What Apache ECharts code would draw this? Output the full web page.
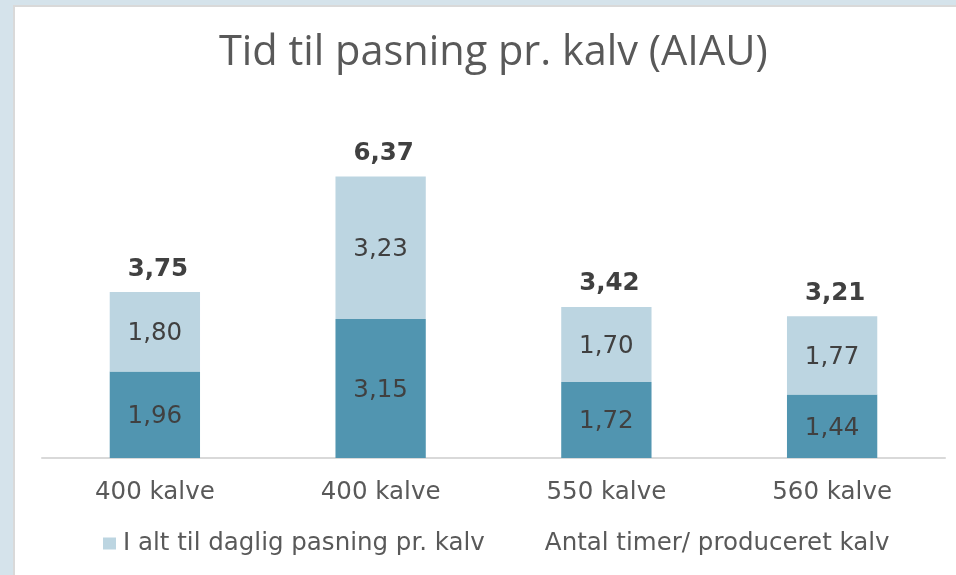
<!DOCTYPE html>
<html>
<head>
<meta charset="utf-8">
<script src="https://cdn.jsdelivr.net/npm/echarts@6/dist/echarts.min.js"></script>
<style>
  html, body { margin: 0; padding: 0; background: #d5e3eb; }
  #panel { position: absolute; left: 13px; top: 5px; width: 943px; height: 570px; background: #ffffff; border-left: 2px solid #d9d9d9; border-top: 2px solid #d9d9d9; box-sizing: border-box; }
  #chart { position: absolute; left: 0; top: 0; width: 956px; height: 575px; }
</style>
</head>
<body>
<div id="panel"></div>
<div id="chart"></div>
<script>
const categories = ['400 kalve', '400 kalve', '550 kalve', '560 kalve'];
const dailyCare = [1.96, 3.15, 1.72, 1.44];
const totalDaily = [1.80, 3.23, 1.70, 1.77];
const hoursPerCalf = [3.75, 6.37, 3.42, 3.21];
const titleText = 'Tid til pasning pr. kalv (AIAU)';
const legendLight = 'I alt til daglig pasning pr. kalv';
const legendTotal = 'Antal timer/ produceret kalv';

const fmt = v => Number(v).toFixed(2).replace('.', ',');
const FONT = 'DejaVu Sans';
const FS = 24.5;

const chart = echarts.init(document.getElementById('chart'), null, { renderer: 'canvas' });
chart.setOption({
  backgroundColor: 'transparent',
  animation: false,
  title: {
    text: titleText,
    left: 214,
    top: 27,
    textStyle: { fontFamily: 'Open Sans', fontSize: 41.5, fontWeight: 'normal', color: '#595959' }
  },
  legend: {
    data: [
      { name: legendLight, icon: 'rect' },
      { name: legendTotal, icon: 'none' }
    ],
    left: 103,
    top: 531,
    padding: 0,
    itemWidth: 13,
    itemHeight: 12,
    itemGap: 40,
    textStyle: { fontFamily: FONT, fontSize: FS, color: '#595959', padding: [2, 0, 0, 2] }
  },
  grid: { left: 42, right: 11, top: 105, bottom: 117 },
  xAxis: {
    type: 'category',
    data: categories,
    axisLine: { lineStyle: { color: '#d9d9d9', width: 2 } },
    axisTick: { show: false },
    axisLabel: { fontFamily: FONT, fontSize: FS, color: '#595959', margin: 22 }
  },
  yAxis: {
    type: 'value', min: 0, max: 8, show: false, splitLine: { show: false }
  },
  series: [
    {
      name: 'Daglig pasning',
      type: 'bar',
      stack: 'a',
      data: dailyCare,
      barWidth: '40%',
      itemStyle: { color: '#5195b0' },
      label: { show: true, position: 'inside', offset: [0, 2], formatter: p => fmt(p.value), fontFamily: FONT, fontSize: FS, color: '#404040' }
    },
    {
      name: legendLight,
      type: 'bar',
      stack: 'a',
      data: totalDaily,
      barWidth: '40%',
      itemStyle: { color: '#bcd5e1' },
      label: { show: true, position: 'inside', offset: [0, 2], formatter: p => fmt(p.value), fontFamily: FONT, fontSize: FS, color: '#404040' }
    },
    {
      name: legendTotal,
      type: 'line',
      data: hoursPerCalf,
      symbol: 'circle',
      symbolSize: 1,
      showSymbol: true,
      lineStyle: { width: 0, opacity: 0 },
      itemStyle: { color: 'rgba(0,0,0,0)' },
      z: 10,
      label: { show: true, position: 'top', distance: 10, offset: [3, 0], formatter: p => fmt(p.value), fontFamily: FONT, fontSize: FS, fontWeight: 'bold', color: '#404040' }
    }
  ]
});
</script>
</body>
</html>
